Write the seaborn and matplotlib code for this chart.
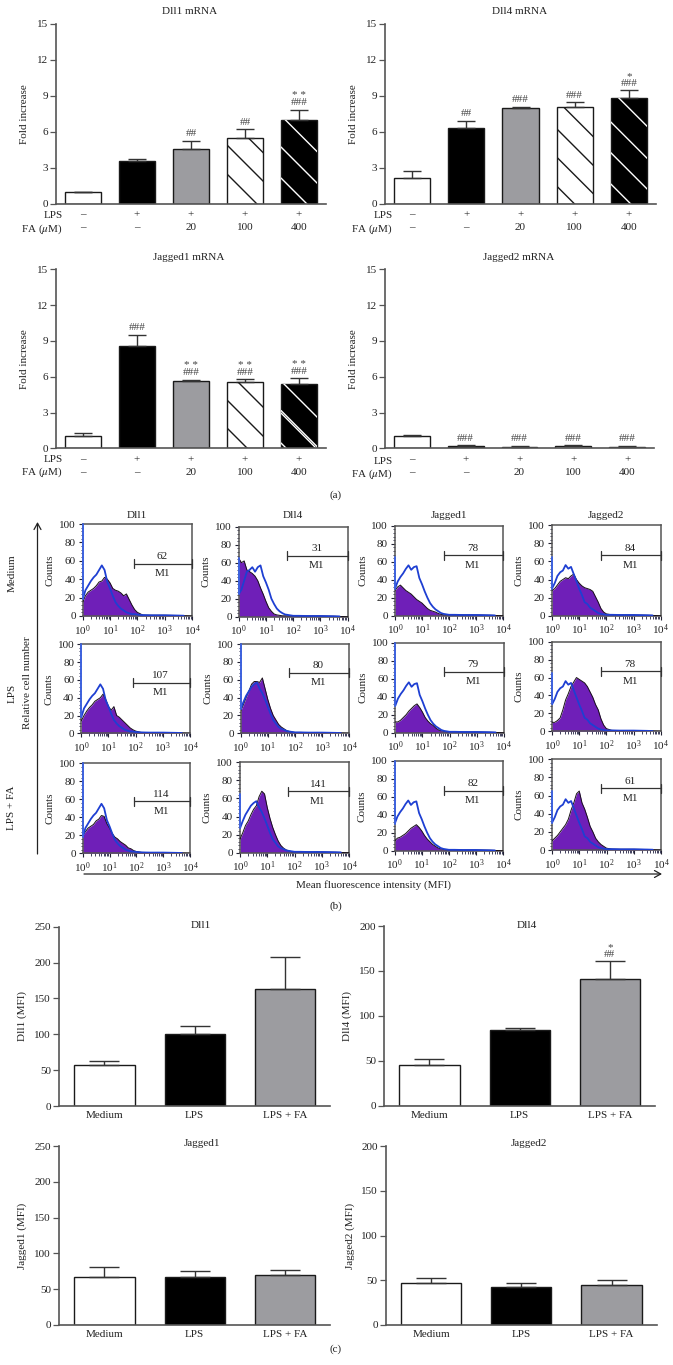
import matplotlib
matplotlib.use("Agg")
import matplotlib.pyplot as plt
import numpy as np
import pandas as pd
import seaborn as sns
from matplotlib.lines import Line2D
from matplotlib.patches import FancyArrowPatch
from matplotlib.transforms import IdentityTransform
from matplotlib.ticker import MultipleLocator, LogLocator, NullFormatter, LogFormatterMathtext

sns.set_theme(style="ticks")
plt.rcParams["font.family"] = ["Liberation Serif", "DejaVu Sans"]
plt.rcParams["mathtext.fontset"] = "stix"
plt.rcParams["mathtext.default"] = "regular"

W, H = 673, 1365
INK = "#222222"
AX = "#555555"
GREY = "#9c9ca0"
PURPLE = "#6f1fb8"
BLUE = "#1e3fd2"
FS = 8

# ---------- panel (a) ----------
a_groups = ["ctl", "lps", "fa20", "fa100", "fa400"]
a_lps = ["–", "+", "+", "+", "+"]
a_fa = ["–", "–", "20", "100", "400"]
dll1_mrna = [1.0, 3.55, 4.6, 5.5, 6.95]
dll1_mrna_top = [1.0, 3.7, 5.25, 6.2, 7.85]
dll4_mrna = [2.15, 6.3, 7.95, 8.05, 8.85]
dll4_mrna_top = [2.75, 6.9, 8.1, 8.45, 9.45]
jag1_mrna = [1.0, 8.55, 5.6, 5.55, 5.4]
jag1_mrna_top = [1.3, 9.5, 5.75, 5.8, 5.85]
jag2_mrna = [1.0, 0.2, 0.15, 0.2, 0.15]
jag2_mrna_top = [1.1, 0.25, 0.2, 0.25, 0.2]
dll1_sig = ["", "", "##", "##", "**|###"]
dll4_sig = ["", "##", "###", "###", "*|###"]
jag1_sig = ["", "###", "**|###", "**|###", "**|###"]
jag2_sig = ["", "###", "###", "###", "###"]

# ---------- panel (b) ----------
col_titles = ["Dll1", "Dll4", "Jagged1", "Jagged2"]
row_titles = ["Medium", "LPS", "LPS + FA"]
gate_counts = [[62, 31, 78, 84], [107, 80, 79, 78], [114, 141, 82, 61]]
gate_start = [[1.89, 1.78, 1.80, 1.79], [1.89, 1.77, 1.80, 1.79], [1.90, 1.77, 1.81, 1.79]]
gate_level = [[57, 68, 67, 67], [57, 68, 68, 67], [58, 68, 67, 68]]
log_mfi = [0, .1, .2, .3, .4, .5, .6, .7, .8, .9, 1.0, 1.1, 1.2, 1.3, 1.4, 1.5, 1.6, 1.7, 1.8, 1.9, 2.0,
           2.2, 2.5, 3.0, 3.5, 3.7, 4.0]
tail = [1, .8, .8, .5, .3, 0]
spike = [[100, 65, 65, 65], [100, 100, 100, 65], [100, 65, 100, 65]]
blue_c1 = [18, 28, 33, 38, 42, 45, 50, 55, 50, 37, 30, 22, 15, 11, 8, 6, 4, 3, 2, 2, 1.5]
blue_c2a = [25, 30, 40, 50, 52, 55, 50, 55, 57, 45, 38, 30, 20, 14, 9, 6, 4, 2.5, 2, 1.5, 1]
blue_c2b = [27, 35, 42, 47, 52, 55, 57, 50, 45, 38, 30, 22, 15, 11, 7, 5, 4, 2.5, 2, 1.5, 1]
blue_c3 = [30, 38, 43, 47, 52, 56, 51, 54, 55, 42, 35, 27, 20, 14, 10, 7, 5, 3, 2, 1.5, 1]
blue_c4 = [30, 36, 44, 48, 50, 56, 52, 54, 46, 38, 30, 23, 15, 13, 9, 7, 5, 3, 2, 1.5, 1]
blue_curves = [[blue_c1, blue_c2a, blue_c3, blue_c4],
               [blue_c1, blue_c2b, blue_c3, blue_c4],
               [blue_c1, blue_c2b, blue_c3, blue_c4]]
purple_curves = [
    [[15, 22, 26, 28, 30, 33, 37, 38, 42, 40, 36, 30, 28, 27, 25, 22, 24, 18, 12, 7, 4],
     [65, 60, 62, 52, 50, 48, 45, 40, 32, 25, 17, 10, 6, 3, 2, 1.5, 1, 1, 1, 1, 1],
     [28, 32, 34, 31, 28, 26, 24, 21, 18, 16, 14, 11, 8, 6, 5, 4, 2.5, 1.5, 1, 1, 1],
     [28, 30, 34, 38, 40, 42, 41, 44, 46, 40, 36, 33, 31, 30, 29, 27, 21, 15, 8, 4, 2]],
    [[14, 20, 25, 29, 32, 36, 38, 40, 44, 38, 30, 26, 30, 20, 18, 15, 12, 9, 6, 4, 2.5],
     [25, 32, 40, 47, 55, 58, 58, 57, 62, 50, 38, 28, 20, 15, 10, 7, 5, 3, 2, 1.5, 1],
     [12, 12, 14, 17, 20, 24, 27, 30, 32, 28, 23, 17, 13, 10, 8, 5, 3, 2, 1.5, 1, 1],
     [10, 10, 12, 15, 24, 35, 42, 50, 55, 60, 58, 56, 54, 50, 44, 38, 30, 24, 14, 7, 3]],
    [[20, 24, 28, 30, 32, 36, 38, 42, 41, 33, 28, 22, 18, 16, 13, 11, 9, 6, 5, 3, 2],
     [15, 22, 30, 35, 42, 48, 52, 62, 68, 65, 50, 38, 28, 20, 13, 8, 5, 3, 2, 1, 1],
     [11, 14, 15, 17, 19, 22, 25, 27, 29, 26, 22, 17, 13, 10, 7, 5, 3, 2, 1.5, 1, 1],
     [10, 13, 16, 20, 24, 28, 34, 44, 52, 62, 65, 52, 45, 36, 26, 20, 13, 9, 6, 4, 2]],
]

# ---------- panel (c) ----------
c_groups = ["Medium", "LPS", "LPS + FA"]
dll1_mfi = [57, 100, 163.5]
dll1_mfi_top = [62.5, 111, 208]
dll4_mfi = [45, 84.5, 141]
dll4_mfi_top = [52.5, 86, 160.5]
jag1_mfi = [67, 67.5, 69.5]
jag1_mfi_top = [81.5, 76, 77.5]
jag2_mfi = [47, 43, 44.5]
jag2_mfi_top = [52, 46.5, 50.5]
dll4_sig_c = ["", "", "*|##"]

fig = plt.figure(figsize=(W / 100, H / 100), dpi=100, facecolor="white")


def px_axes(l, t, r, b):
    return fig.add_axes([l / W, 1 - b / H, (r - l) / W, (b - t) / H])


def px_text(x, y, s, ha="center", va="center", rotation=0, size=FS):
    fig.text(x / W, 1 - y / H, s, ha=ha, va=va, rotation=rotation, fontsize=size, color=INK)


def bar_panel(box, groups, vals, tops, ymax, step, ylabel, title, tpos, colors, ylab_dx, capsize, sig=None):
    l, t, r, b = box
    ax = px_axes(*box)
    df = pd.DataFrame({"group": groups, "val": vals})
    sns.barplot(data=df, x="group", y="val", hue="group", palette=colors, dodge=False,
                width=0.667, legend=False, edgecolor="#1a1a1a", linewidth=1.0, ax=ax, saturation=1)
    xs = np.arange(len(vals))
    ax.errorbar(xs, vals, yerr=[np.zeros(len(vals)), np.array(tops) - np.array(vals)], fmt="none",
                ecolor="#333333", elinewidth=1.0, capsize=capsize, capthick=1.0, zorder=1)
    ax.set_xlim(-0.5, len(vals) - 0.5)
    ax.set_ylim(0, ymax)
    ax.yaxis.set_major_locator(MultipleLocator(step))
    sns.despine(ax=ax)
    for s in ("left", "bottom"):
        ax.spines[s].set_color(AX)
        ax.spines[s].set_linewidth(1.2)
    ax.tick_params(axis="y", length=4, width=0.9, color=AX, labelsize=FS, labelcolor=INK, pad=2)
    ax.set_xlabel("")
    ax.set_ylabel(ylabel, fontsize=FS, color=INK)
    ax.yaxis.set_label_coords(-ylab_dx / (r - l), 0.5)
    px_text(tpos[0], tpos[1], title)
    if sig:
        for i, s in enumerate(sig):
            if not s:
                continue
            rows = s.split("|")
            ax.annotate(rows[-1], (i, tops[i]), xytext=(0, 5), textcoords="offset points",
                        ha="center", va="center", fontsize=8, color="#444444")
            if len(rows) > 1:
                ax.annotate(" ".join(rows[0]), (i, tops[i]), xytext=(0, 10), textcoords="offset points",
                            ha="center", va="center", fontsize=8, color="#444444")
    return ax


def hatch_bar(ax, idx, color, starts):
    patch = [p for p in ax.patches if p.get_height() > 0][idx]
    x0 = ax.transData.transform((patch.get_x(), 0))[0]
    for s in starts:
        yd = H - s
        ln = Line2D([x0, x0 + 120], [yd, yd - 120], color=color, lw=1.0)
        ax.add_artist(ln)
        ln.set_transform(IdentityTransform())
        ln.set_clip_path(patch)


a_colors = ["white", "black", GREY, "white", "black"]


def mrna(box, vals, tops, title, tpos, sig, white_h, black_h, rows_y, lab_right):
    ax = bar_panel(box, a_groups, vals, tops, 15, 3, "Fold increase", title, tpos, a_colors, 27, 6.5, sig)
    ax.set_xticks(range(5))
    ax.set_xticklabels([f"{p}\n{q}" for p, q in zip(a_lps, a_fa)], fontsize=FS, color=INK, linespacing=1.55)
    ax.tick_params(axis="x", length=0, pad=5)
    px_text(lab_right, rows_y[0], "LPS", ha="right")
    px_text(lab_right, rows_y[1], "FA ($\\mathit{\\mu}$M)", ha="right")
    if white_h:
        hatch_bar(ax, 3, "#1a1a1a", white_h)
        hatch_bar(ax, 4, "white", black_h)


mrna((56, 23.7, 326, 203.7), dll1_mrna, dll1_mrna_top, "Dll1 mRNA", (189.7, 11), dll1_sig,
     [116.5, 145, 174], [115.5, 147, 178], (215, 229), 63)
mrna((385, 23.7, 656, 203.7), dll4_mrna, dll4_mrna_top, "Dll4 mRNA", (520, 11), dll4_sig,
     [100, 128.7, 157, 186], [90, 122, 152.7, 184], (215, 229), 393)
mrna((56, 269.3, 326, 448.3), jag1_mrna, jag1_mrna_top, "Jagged1 mRNA", (189, 257.7), jag1_sig,
     [371, 400, 428], [381, 410.5, 413, 443], (459, 472.7), 63)
mrna((385, 269.3, 654, 448.3), jag2_mrna, jag2_mrna_top, "Jagged2 mRNA", (518.7, 258), jag2_sig,
     None, None, (461, 474), 393)
px_text(336, 495.5, "(a)")

# ---------- flow histograms ----------
boxes = [
    [(82.7, 524, 192, 616), (238.7, 526.7, 347.7, 616.7), (395, 525.7, 503, 615.7), (552, 525.3, 660.7, 615.7)],
    [(81.3, 644.3, 190, 733.3), (240.7, 644, 349, 733.3), (395.3, 642.7, 503.7, 732.7), (552, 641.7, 660.7, 731.3)],
    [(82.7, 763.3, 190, 853.3), (240, 762.3, 349, 852.7), (394.7, 761, 503, 850.7), (552, 759.3, 661, 850)],
]
mfi = 10.0 ** np.array(log_mfi)
for r in range(3):
    for c in range(4):
        box = boxes[r][c]
        ax = px_axes(*box)
        purple = np.array(purple_curves[r][c] + tail, dtype=float)
        blue = np.array(blue_curves[r][c] + tail, dtype=float)
        ax.fill_between(mfi, 0, purple, color=PURPLE, lw=0, zorder=2)
        ax.plot(mfi, purple, color="#181018", lw=0.7, zorder=3)
        sns.lineplot(x=mfi[:-1], y=blue[:-1], color=BLUE, lw=1.3, ax=ax, zorder=4, estimator=None, sort=False)
        ax.plot([1, 1], [blue[0], spike[r][c]], color="#3a62e8", lw=1.3, zorder=4, clip_on=False)
        ax.set_xscale("log")
        ax.set_xlim(1, 1e4)
        ax.set_ylim(0, 100)
        ax.xaxis.set_major_locator(LogLocator(base=10, numticks=6))
        ax.xaxis.set_minor_locator(LogLocator(base=10, subs=np.arange(2, 10), numticks=6))
        ax.xaxis.set_major_formatter(LogFormatterMathtext())
        ax.xaxis.set_minor_formatter(NullFormatter())
        ax.yaxis.set_major_locator(MultipleLocator(20))
        ax.yaxis.set_minor_locator(MultipleLocator(4))
        for s in ax.spines.values():
            s.set_color(AX)
            s.set_linewidth(1.1)
        ax.tick_params(which="major", length=3, width=0.8, color="#222233", labelsize=FS, labelcolor=INK, pad=2)
        ax.tick_params(which="minor", length=1.8, width=0.6, color="#222244")
        ax.set_ylabel("Counts", fontsize=FS, color=INK)
        ax.yaxis.set_label_coords(-28 / (box[2] - box[0]), 0.5)
        g0 = 10 ** gate_start[r][c]
        lvl = gate_level[r][c]
        ax.plot([g0, 1e4], [lvl, lvl], color="#333333", lw=0.9, zorder=5, clip_on=False)
        ax.plot([g0, g0], [lvl - 5, lvl + 5], color="#333333", lw=0.9, zorder=5)
        ax.plot([1e4, 1e4], [lvl - 5, lvl + 5], color="#333333", lw=0.9, zorder=5, clip_on=False)
        gc = 10 ** ((gate_start[r][c] + 3.95) / 2)
        ax.text(gc, lvl + 7.5, str(gate_counts[r][c]), ha="center", va="center", fontsize=FS, color=INK)
        ax.text(gc, lvl - 11, "M1", ha="center", va="center", fontsize=FS, color=INK)

for x, s in zip([137, 293, 448.7, 605.7], col_titles):
    px_text(x, 515, s)
for y, s in zip([573, 693, 808], row_titles):
    px_text(12, y, s, rotation=90)
px_text(28, 683, "Relative cell number", rotation=90)
px_text(374, 885, "Mean fluorescence intensity (MFI)")
px_text(336, 906, "(b)")
arrow = dict(arrowstyle="->,head_length=0.45,head_width=0.25", color="#222222", lw=0.9,
             shrinkA=0, shrinkB=0, mutation_scale=10)
fig.add_artist(FancyArrowPatch((37.5 / W, 1 - 854 / H), (37.5 / W, 1 - 522 / H),
                               transform=fig.transFigure, **arrow))
fig.add_artist(FancyArrowPatch((84 / W, 1 - 874 / H), (662 / W, 1 - 874 / H),
                               transform=fig.transFigure, **arrow))

# ---------- panel (c) bars ----------
c_colors = ["white", "black", GREY]


def mfi_panel(box, vals, tops, ymax, step, ylabel, title, tpos, dx, sig=None):
    ax = bar_panel(box, c_groups, vals, tops, ymax, step, ylabel, title, tpos, c_colors, dx, 10.5, sig)
    ax.tick_params(axis="x", length=0, pad=3.5, labelsize=FS, labelcolor=INK)


mfi_panel((59.3, 926.7, 330, 1106), dll1_mfi, dll1_mfi_top, 250, 50, "Dll1 (MFI)", "Dll1", (201, 925), 32)
mfi_panel((384.3, 926, 655, 1105.7), dll4_mfi, dll4_mfi_top, 200, 50, "Dll4 (MFI)", "Dll4", (526.7, 925), 32, dll4_sig_c)
mfi_panel((59.3, 1146, 330, 1325), jag1_mfi, jag1_mfi_top, 250, 50, "Jagged1 (MFI)", "Jagged1", (201.7, 1143), 32)
mfi_panel((386, 1146, 656.7, 1325), jag2_mfi, jag2_mfi_top, 200, 50, "Jagged2 (MFI)", "Jagged2", (528.7, 1143), 31)
px_text(336, 1349, "(c)")

fig.savefig("out.png", dpi=100, facecolor="white")
